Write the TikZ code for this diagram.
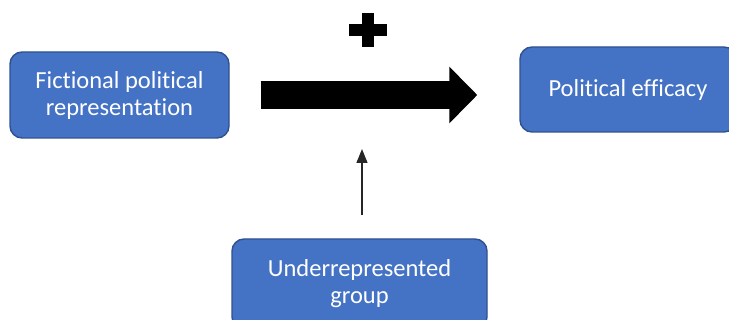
\documentclass[tikz,border=0pt]{standalone}
\usepackage{fontspec}
\setmainfont{Carlito}[Ligatures=NoCommon]
\usetikzlibrary{arrows.meta,positioning}
\definecolor{boxblue}{HTML}{4472C4}
\definecolor{boxedge}{HTML}{2F528F}
\tikzset{
  blk/.style={draw=boxedge, line width=1.4pt, fill=boxblue, rounded corners=12pt,
    text=white, align=center, inner sep=0pt, font=\fontsize{24.5}{27}\selectfont},
  bigarr/.style={line width=28pt, -{Triangle[length=28pt,width=55pt]}},
  modarr/.style={-{Triangle[length=14pt,width=11pt]}, line width=1.3pt, black!85},
}

\begin{document}
\begin{tikzpicture}[x=1pt,y=-1pt]
  \useasboundingbox (0,0) rectangle (729,320);
  % --- boxes ---
  \node[blk, minimum width=219pt, minimum height=86pt] (fic) at (119.5,95)
    {Fictional political\\representation};
  \node[blk, minimum width=216pt, minimum height=85pt] (eff) at (628,89.5)
    {Political efficacy};
  \node[blk, minimum width=255pt, minimum height=90pt] (grp) at (359.5,284)
    {Underrepresented\\group};
  % --- main effect ---
  \draw[bigarr, shorten <=31pt, shorten >=42pt] (fic.east) -- (fic.east -| eff.west);
  \coordinate (plus) at (367.5,30);
  \fill (plus) ++(-19,-6) rectangle ++(38,12);
  \fill (plus) ++(-6,-17) rectangle ++(12,34);
  % --- moderator ---
  \coordinate (mod) at (362,149);
  \draw[modarr, shorten <=23pt] (grp.north -| mod) -- (mod);
\end{tikzpicture}
\end{document}
